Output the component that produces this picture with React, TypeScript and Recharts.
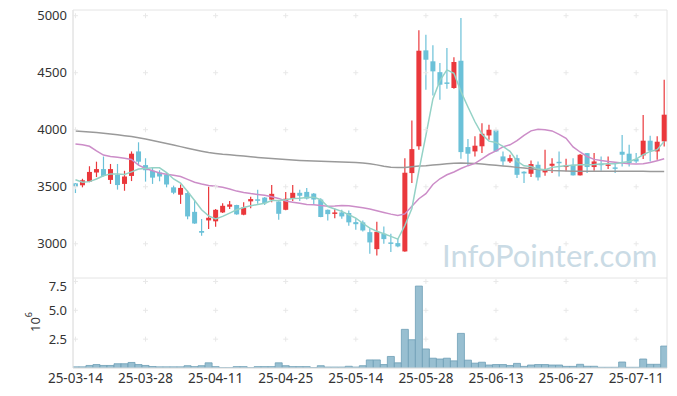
import React from "react"
import {
  ComposedChart,
  Bar,
  Line,
  XAxis,
  YAxis,
  ReferenceArea,
  ReferenceDot,
} from "recharts"

// trading days, 25-03-14 .. 25-07-17
const dates = [
  "25-03-14", "25-03-17", "25-03-18", "25-03-19", "25-03-20", "25-03-21", "25-03-24", "25-03-25", "25-03-26", "25-03-27",
  "25-03-28", "25-03-31", "25-04-01", "25-04-02", "25-04-03", "25-04-04", "25-04-07", "25-04-08", "25-04-09", "25-04-10",
  "25-04-11", "25-04-14", "25-04-15", "25-04-16", "25-04-17", "25-04-18", "25-04-21", "25-04-22", "25-04-23", "25-04-24",
  "25-04-25", "25-04-28", "25-04-29", "25-04-30", "25-05-02", "25-05-07", "25-05-08", "25-05-09", "25-05-12", "25-05-13",
  "25-05-14", "25-05-15", "25-05-16", "25-05-19", "25-05-20", "25-05-21", "25-05-22", "25-05-23", "25-05-26", "25-05-27",
  "25-05-28", "25-05-29", "25-05-30", "25-06-02", "25-06-04", "25-06-05", "25-06-09", "25-06-10", "25-06-11", "25-06-12",
  "25-06-13", "25-06-16", "25-06-17", "25-06-18", "25-06-19", "25-06-20", "25-06-23", "25-06-24", "25-06-25", "25-06-26",
  "25-06-27", "25-06-30", "25-07-01", "25-07-02", "25-07-03", "25-07-04", "25-07-07", "25-07-08", "25-07-09", "25-07-10",
  "25-07-11", "25-07-14", "25-07-15", "25-07-16", "25-07-17",
]

const opens = [
  3530, 3513, 3545, 3625, 3655, 3560, 3605, 3525, 3595, 3810,
  3690, 3640, 3625, 3607, 3495, 3430, 3445, 3280, 3112, 3205,
  3197, 3275, 3325, 3340, 3255, 3372, 3390, 3405, 3387, 3371,
  3298, 3395, 3447, 3455, 3440, 3388, 3298, 3262, 3275, 3270,
  3190, 3188, 3102, 2953, 3088, 3012, 3006, 2933, 3620, 3855,
  4696, 4600, 4505, 4415, 4366, 4605, 3848, 3810, 3855, 3950,
  3994, 3766, 3722, 3751, 3632, 3614, 3693, 3626, 3684, 3719,
  3673, 3693, 3600, 3795, 3673, 3702, 3684, 3670, 3807, 3790,
  3743, 3775, 3904, 3810, 3898,
]
const highs = [
  3532, 3570, 3680, 3720, 3765, 3700, 3700, 3640, 3810, 3890,
  3750, 3665, 3645, 3620, 3510, 3520, 3465, 3385, 3218, 3500,
  3305, 3355, 3375, 3342, 3365, 3412, 3473, 3410, 3515, 3372,
  3455, 3515, 3473, 3490, 3445, 3400, 3300, 3308, 3298, 3292,
  3225, 3205, 3137, 3193, 3152, 3088, 3047, 3750, 4080, 4872,
  4833, 4742, 4585, 4716, 4635, 4980, 3918, 3942, 4058, 4044,
  3996, 3810, 3781, 3780, 3635, 3731, 3722, 3825, 3751, 3810,
  3746, 3751, 3787, 3797, 3795, 3766, 3766, 3708, 3953, 3868,
  3795, 4129, 3947, 3942, 4439,
]
const lows = [
  3445, 3495, 3540, 3585, 3590, 3525, 3475, 3465, 3550, 3690,
  3545, 3525, 3548, 3495, 3435, 3350, 3215, 3175, 3070, 3130,
  3150, 3270, 3305, 3255, 3250, 3312, 3350, 3340, 3365, 3210,
  3295, 3375, 3375, 3388, 3342, 3232, 3205, 3225, 3220, 3158,
  3123, 3108, 2912, 2898, 3000, 2927, 2970, 2930, 3532, 3825,
  4350, 4300, 4263, 4360, 4360, 3745, 3685, 3766, 3795, 3912,
  3808, 3684, 3708, 3576, 3532, 3585, 3556, 3597, 3620, 3591,
  3635, 3598, 3598, 3620, 3640, 3640, 3655, 3620, 3678, 3678,
  3708, 3743, 3722, 3737, 3854,
]
const closes = [
  3500, 3557, 3630, 3655, 3595, 3655, 3515, 3590, 3790, 3720,
  3645, 3580, 3590, 3520, 3448, 3490, 3240, 3178, 3097, 3228,
  3298, 3333, 3345, 3258, 3318, 3392, 3380, 3355, 3438, 3263,
  3395, 3447, 3421, 3397, 3388, 3235, 3260, 3275, 3240, 3188,
  3172, 3117, 3012, 3105, 3041, 3000, 2977, 3623, 3830, 4693,
  4614, 4512, 4395, 4405, 4594, 3804, 3790, 3860, 3965, 4000,
  3810, 3722, 3751, 3605, 3617, 3699, 3582, 3650, 3702, 3711,
  3687, 3600, 3781, 3673, 3722, 3690, 3696, 3661, 3781, 3708,
  3722, 3904, 3816, 3895, 4132,
]

// moving averages as drawn (short / mid / long)
const maShort = [
  3562, 3540, 3545, 3568, 3596, 3613, 3613, 3607, 3631, 3655,
  3660, 3666, 3666, 3625, 3568, 3532, 3458, 3380, 3298, 3245,
  3218, 3240, 3269, 3298, 3318, 3333, 3345, 3356, 3380, 3380,
  3386, 3397, 3400, 3406, 3409, 3386, 3327, 3305, 3284, 3255,
  3225, 3180, 3137, 3110, 3088, 3065, 3041, 3160, 3310, 3640,
  3950, 4270, 4430, 4525, 4495, 4335, 4200, 4070, 3960, 3900,
  3889, 3854, 3810, 3725, 3684, 3678, 3655, 3649, 3670, 3678,
  3684, 3688, 3693, 3694, 3696, 3700, 3702, 3702, 3713, 3722,
  3743, 3781, 3810, 3825, 3898,
]
const maMid = [
  3875, 3868, 3855, 3815, 3778, 3765, 3758, 3750, 3740, 3690,
  3660, 3640, 3620, 3610, 3600, 3590, 3565, 3540, 3525, 3512,
  3505, 3495, 3480, 3462, 3450, 3440, 3432, 3425, 3412, 3398,
  3375, 3365, 3355, 3345, 3342, 3335, 3330, 3332, 3336, 3334,
  3325, 3315, 3305, 3290, 3275, 3260, 3248, 3262, 3330, 3395,
  3440, 3520, 3570, 3605, 3630, 3660, 3685, 3705, 3745, 3785,
  3815, 3850, 3868, 3905, 3950, 3990, 4005, 4000, 3990, 3960,
  3925, 3850, 3805, 3765, 3740, 3730, 3722, 3715, 3708, 3702,
  3700, 3702, 3712, 3728, 3745,
]
const maLong = [
  3988, 3984, 3980, 3975, 3970, 3963, 3956, 3948, 3940, 3930,
  3918, 3905, 3893, 3880, 3866, 3852, 3838, 3825, 3812, 3800,
  3792, 3785, 3780, 3775, 3770, 3763, 3757, 3752, 3748, 3744,
  3740, 3735, 3731, 3728, 3726, 3724, 3722, 3720, 3718, 3716,
  3713, 3709, 3702, 3692, 3680, 3672, 3668, 3670, 3676, 3682,
  3685, 3690, 3696, 3702, 3706, 3708, 3707, 3704, 3700, 3694,
  3688, 3682, 3677, 3670, 3664, 3658, 3652, 3646, 3642, 3640,
  3638, 3637, 3637, 3637, 3637, 3637, 3637, 3636, 3636, 3636,
  3635, 3635, 3634, 3634, 3633,
]

// volume, millions of shares
const volume = [
  0.1, 0.1, 0.22, 0.3, 0.22, 0.22, 0.37, 0.37, 0.48, 0.3,
  0.22, 0.13, 0.1, 0.1, 0.1, 0.1, 0.2, 0.12, 0.2, 0.45,
  0.12, 0.02, 0.02, 0.12, 0.12, 0.02, 0.12, 0.12, 0.12, 0.45,
  0.2, 0.12, 0.12, 0.12, 0.03, 0.2, 0.08, 0.08, 0.08, 0.15,
  0.08, 0.2, 0.7, 0.7, 0.3, 1.0, 0.45, 3.35, 2.45, 7.1,
  1.65, 0.85, 0.78, 0.85, 0.62, 3.0, 0.68, 0.42, 0.5, 0.26,
  0.3, 0.3, 0.22, 0.4, 0.14, 0.26, 0.3, 0.3, 0.26, 0.26,
  0.14, 0.14, 0.32, 0.15, 0.15, 0.06, 0.06, 0.06, 0.52, 0.06,
  0.06, 0.78, 0.32, 0.32, 1.9,
]

const xTicks = [0, 10, 20, 30, 40, 50, 60, 70, 80]
const priceTicks = [3000, 3500, 4000, 4500, 5000]
const volTicks = [2.5, 5, 7.5]

const X_DOMAIN: [number, number] = [-0.35, 84.4]
const PRICE_DOMAIN: [number, number] = [2700, 5050]
const VOL_DOMAIN: [number, number] = [0, 7.8]

const UP = "#ea383c"
const DOWN = "#6bc1d8"
const FRAME = "#e4e4e4"
const TICK = { fill: "#333", fontSize: 13 }

const rows = dates.map((date, i) => ({
  i,
  date,
  open: opens[i],
  high: highs[i],
  low: lows[i],
  close: closes[i],
  maShort: maShort[i],
  maMid: maMid[i],
  maLong: maLong[i],
  vol: volume[i],
}))

function Candle(props: any) {
  const { x, y, width, height, payload } = props
  const top = Math.min(y, y + height)
  const h = Math.abs(height)
  const span = payload.high - payload.low || 1
  const py = (v: number) => top + ((payload.high - v) / span) * h
  const color = payload.close >= payload.open ? UP : DOWN
  const cx = x + width / 2
  const bTop = py(Math.max(payload.open, payload.close))
  const bBot = py(Math.min(payload.open, payload.close))
  return (
    <g>
      <line x1={cx} x2={cx} y1={top} y2={top + h} stroke={color} strokeWidth={1.2} />
      <rect x={x} y={bTop} width={width} height={Math.max(bBot - bTop, 1.5)} fill={color} />
    </g>
  )
}

// faint "+" marks where grid lines would cross
const cross = (p: any) => (
  <path
    d={`M${p.cx - 2.5},${p.cy}h5M${p.cx},${p.cy - 2.5}v5`}
    stroke="#e8e8e8"
    strokeWidth={1}
    fill="none"
  />
)

function crosses(yTicks: number[]) {
  return yTicks.flatMap((yv) =>
    xTicks.map((xv) => (
      <ReferenceDot key={`${xv}-${yv}`} x={xv} y={yv} r={0} shape={cross} ifOverflow="visible" />
    ))
  )
}

export default function App() {
  return (
    <div
      style={{
        position: "absolute",
        left: 0,
        top: 0,
        width: 677,
        height: 396,
        background: "#fff",
        fontFamily: "'Noto Sans', sans-serif",
      }}
    >
      <svg width={677} height={396} style={{ position: "absolute", left: 0, top: 0 }}>
        <text x={442} y={266.5} fontFamily="Lato" fontSize={31} fill="#cadbe5">
          InfoPointer.com
        </text>
        <text transform="translate(39.5,332) rotate(-90)" fontSize={13} fill="#333">
          10
          <tspan dy={-8} fontSize={9}>6</tspan>
        </text>
      </svg>

      <div style={{ position: "absolute", left: 0, top: 0 }}>
        <ComposedChart width={677} height={278} data={rows} margin={{ top: 10, right: 10, bottom: 0, left: 0 }}>
          <XAxis dataKey="i" type="number" domain={X_DOMAIN} allowDataOverflow ticks={xTicks} hide />
          <YAxis
            type="number"
            domain={PRICE_DOMAIN}
            allowDataOverflow
            ticks={priceTicks}
            width={73}
            tickLine={false}
            tickSize={0}
            tickMargin={6}
            axisLine={{ stroke: FRAME }}
            tick={TICK}
          />
          <ReferenceArea
            x1={X_DOMAIN[0]}
            x2={X_DOMAIN[1]}
            y1={PRICE_DOMAIN[0]}
            y2={PRICE_DOMAIN[1]}
            fill="none"
            stroke={FRAME}
            ifOverflow="visible"
          />
          {crosses(priceTicks)}
          <Bar
            dataKey={(d: any) => [d.low, d.high]}
            barSize={5}
            shape={<Candle />}
            isAnimationActive={false}
          />
          <Line dataKey="maLong" stroke="#9a9a9a" strokeWidth={1.5} dot={false} isAnimationActive={false} />
          <Line dataKey="maMid" stroke="#cc8dc8" strokeWidth={1.5} dot={false} isAnimationActive={false} />
          <Line dataKey="maShort" stroke="#94d2c6" strokeWidth={1.5} dot={false} isAnimationActive={false} />
        </ComposedChart>
      </div>

      <div style={{ position: "absolute", left: 0, top: 278 }}>
        <ComposedChart width={677} height={118} data={rows} margin={{ top: 0, right: 10, bottom: 0, left: 0 }}>
          <XAxis
            dataKey="i"
            type="number"
            domain={X_DOMAIN}
            allowDataOverflow
            ticks={xTicks}
            interval={0}
            tickFormatter={(v: number) => dates[v]}
            tickLine={false}
            tickSize={0}
            tickMargin={5}
            height={28}
            axisLine={{ stroke: FRAME }}
            tick={{ fill: "#333", fontSize: 13.5 }}
          />
          <YAxis
            type="number"
            domain={VOL_DOMAIN}
            allowDataOverflow
            ticks={volTicks}
            tickFormatter={(v: number) => v.toFixed(1)}
            width={73}
            tickLine={false}
            tickSize={0}
            tickMargin={6}
            axisLine={{ stroke: FRAME }}
            tick={TICK}
          />
          <ReferenceArea
            x1={X_DOMAIN[0]}
            x2={X_DOMAIN[1]}
            y1={VOL_DOMAIN[0]}
            y2={VOL_DOMAIN[1]}
            fill="none"
            stroke={FRAME}
            ifOverflow="visible"
          />
          {crosses(volTicks)}
          <Bar dataKey="vol" barSize={7} fill="#98bfd1" stroke="#6e9fb6" strokeWidth={0.8} isAnimationActive={false} />
        </ComposedChart>
      </div>
    </div>
  )
}
